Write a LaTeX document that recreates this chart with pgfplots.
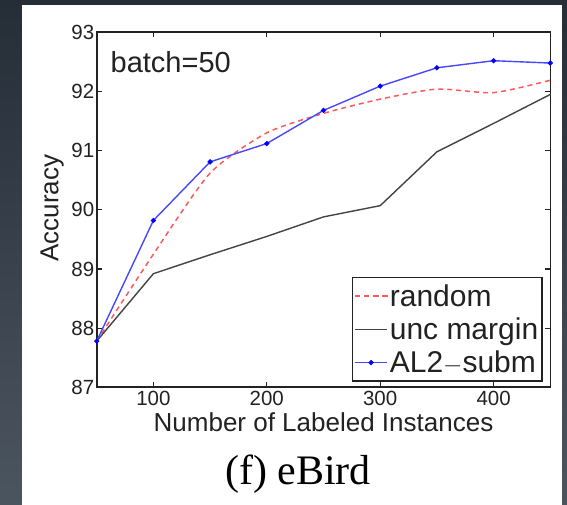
\documentclass[border=0pt]{standalone}
\usepackage{pgfplots}
\pgfplotsset{compat=1.18}
\usepackage{fontspec}
\setmainfont{Liberation Sans}
\newfontfamily\capfont{Liberation Serif}
\definecolor{bgtop}{HTML}{252D37}
\definecolor{bgbot}{HTML}{4B5560}
\definecolor{axgray}{HTML}{222222}
\definecolor{rnd}{HTML}{FF5A5A}
\definecolor{al2}{HTML}{4848FF}
\definecolor{unc}{HTML}{444444}

\begin{document}
\begin{tikzpicture}[x=1pt,y=1pt]
% slide background and white panel
\shade[top color=bgtop,bottom color=bgbot] (0,0) rectangle (567,505);
\fill[white] (22,0) rectangle (562,500);

\begin{axis}[
    at={(96.7pt,117.7pt)}, anchor=south west,
    scale only axis,
    width=453.6pt, height=355pt,
    xmin=50, xmax=450, ymin=87, ymax=93,
    xtick={100,200,300,400},
    ytick={87,88,89,90,91,92,93},
    tick align=inside,
    major tick length=5pt,
    axis line style={axgray, line width=1.6pt},
    every tick/.style={axgray, line width=1.2pt},
    /pgf/number format/assume math mode=true,
    tick label style={font=\fontsize{20.5}{20}\selectfont, text=axgray},
    yticklabel style={xshift=1pt},
    xlabel={Number of Labeled Instances},
    ylabel={Accuracy},
    label style={font=\fontsize{26}{26}\selectfont, text=axgray},
    xlabel style={at={(axis description cs:0.5,-0.125)}, anchor=base},
    ylabel style={at={(axis description cs:-0.0985,0.505)}, anchor=center, rotate=0},
    legend cell align=left,
    legend style={at={(0.984,0.015)}, anchor=south east,
        draw=axgray, line width=1.6pt,
        font=\fontsize{30}{30}\selectfont, text=axgray,
        inner xsep=2pt, inner ysep=5pt, row sep=6pt,
        /tikz/every even column/.append style={column sep=0pt}},
    legend image code/.code={%
        \draw[mark repeat=2,mark phase=2,#1]
            plot coordinates {(0pt,0pt) (16pt,0pt) (32pt,0pt)};},
]
\addplot[rnd, line width=1.5pt, dash pattern=on 5pt off 4pt, smooth, tension=0.4] coordinates {
    (50,87.78) (100,89.25) (150,90.62) (200,91.30) (250,91.63)
    (300,91.87) (350,92.04) (400,91.98) (450,92.19)
};
\addlegendentry{random}
\addplot[unc, line width=1.4pt] coordinates {
    (50,87.78) (100,88.92) (150,89.24) (200,89.55) (250,89.88)
    (300,90.07) (350,90.98) (400,91.46) (450,91.95)
};
\addlegendentry{unc margin}
\addplot[al2, line width=1.4pt, mark=*, mark size=1.8pt, mark options={fill=blue, draw=blue}] coordinates {
    (50,87.78) (100,89.82) (150,90.81) (200,91.12) (250,91.68)
    (300,92.09) (350,92.40) (400,92.52) (450,92.48)
};
\addlegendentry{AL2$-$subm}
\node[anchor=base west, font=\fontsize{29}{29}\selectfont, text=axgray]
    at (axis description cs:0.023,0.886) {batch=50};
\end{axis}

\node[anchor=base, font=\capfont\fontsize{42}{42}\selectfont] at (298,20) {(f) eBird};
\end{tikzpicture}
\end{document}
